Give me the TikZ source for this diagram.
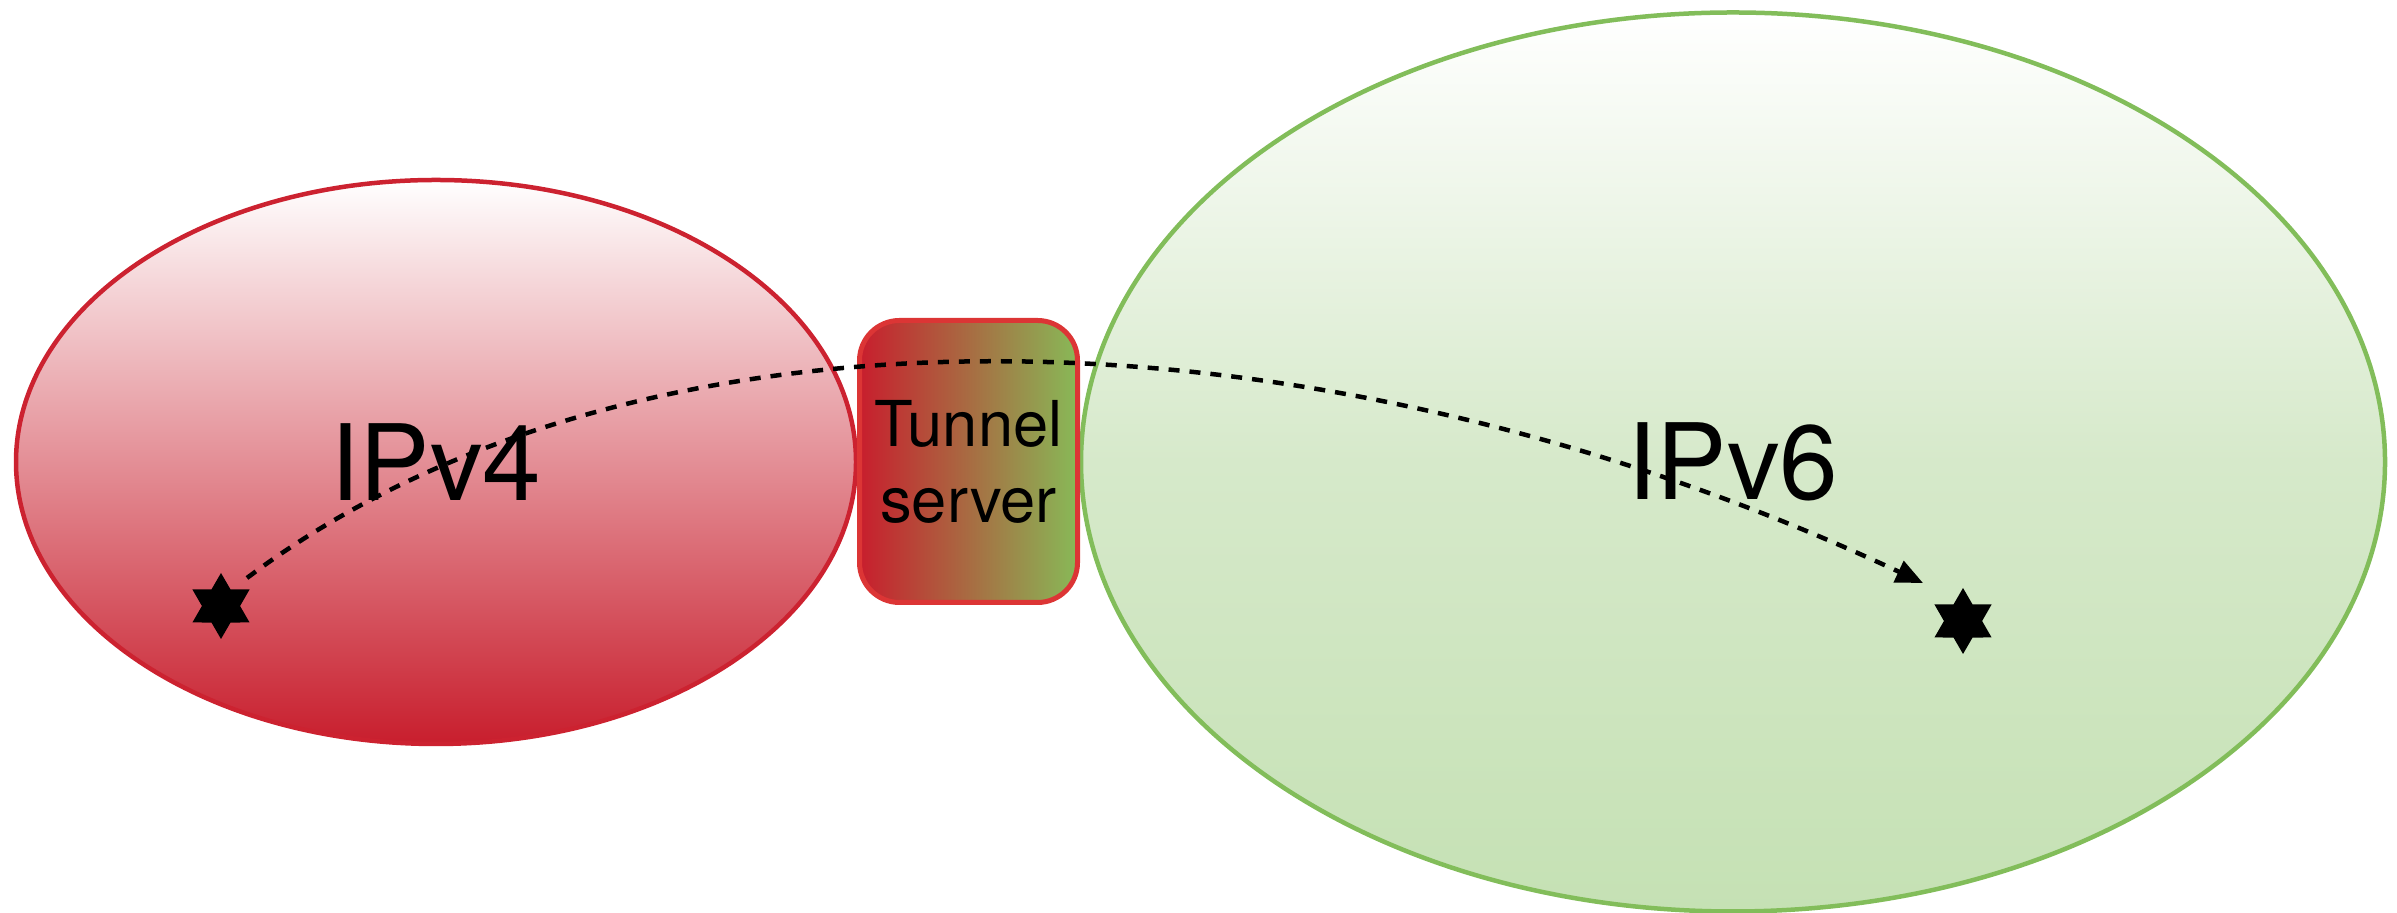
\documentclass[tikz,border=0pt]{standalone}
\usepackage{fontspec}
\setmainfont{TeX Gyre Heros}
\usetikzlibrary{shapes.geometric,arrows.meta}

\definecolor{vfourline}{HTML}{CC2230}
\definecolor{vfourdeep}{HTML}{C81E2D}
\definecolor{vsixline}{HTML}{82BD5A}
\definecolor{vsixmid}{HTML}{D6E9CA}
\definecolor{vsixdeep}{HTML}{C5E1B4}
\definecolor{boxline}{HTML}{DC3535}
\definecolor{boxgreen}{HTML}{88B957}

\begin{document}
\begin{tikzpicture}[
  netcloud/.style={ellipse, line width=0.045cm, inner sep=0pt,
    font=\fontsize{30}{36}\selectfont},
  hoststar/.style={star, star points=6, star point ratio=1.73,
    minimum size=0.66cm, inner sep=0pt, fill=black},
  tunnelpath/.style={line width=0.045cm, dash pattern=on 0.11cm off 0.1cm,
    -{Triangle[length=0.27cm, width=0.23cm]}}
]

\useasboundingbox (0,0) rectangle (23.97,9.13);

% the two networks
\node[netcloud, draw=vfourline, top color=white, bottom color=vfourdeep,
  minimum width=8.40cm, minimum height=5.64cm] (ipv4) at (4.36,4.51) {IPv4};
\node[netcloud, draw=vsixline, top color=white, bottom color=vsixdeep, middle color=vsixmid,
  minimum width=13.04cm, minimum height=8.99cm] (ipv6) at (17.33,4.51) {IPv6};

% tunnel server between them
\node[draw=boxline, line width=0.05cm, rounded corners=0.4cm,
  left color=vfourdeep, right color=boxgreen,
  minimum width=2.18cm, minimum height=2.82cm, align=center,
  font=\fontsize{18}{21.6}\selectfont] (tunnel) at (9.685,4.515) {Tunnel\\server};

% hosts
\node[hoststar] (hostA) at (2.21,3.07) {};
\node[hoststar] (hostB) at (19.63,2.92) {};

\coordinate (pathstart) at (2.47,3.35);
\coordinate (pathend) at (19.23,3.30);

\draw[tunnelpath] (pathstart) .. controls (6.30,6.23) and (12.95,6.23) .. (pathend);

\end{tikzpicture}
\end{document}
